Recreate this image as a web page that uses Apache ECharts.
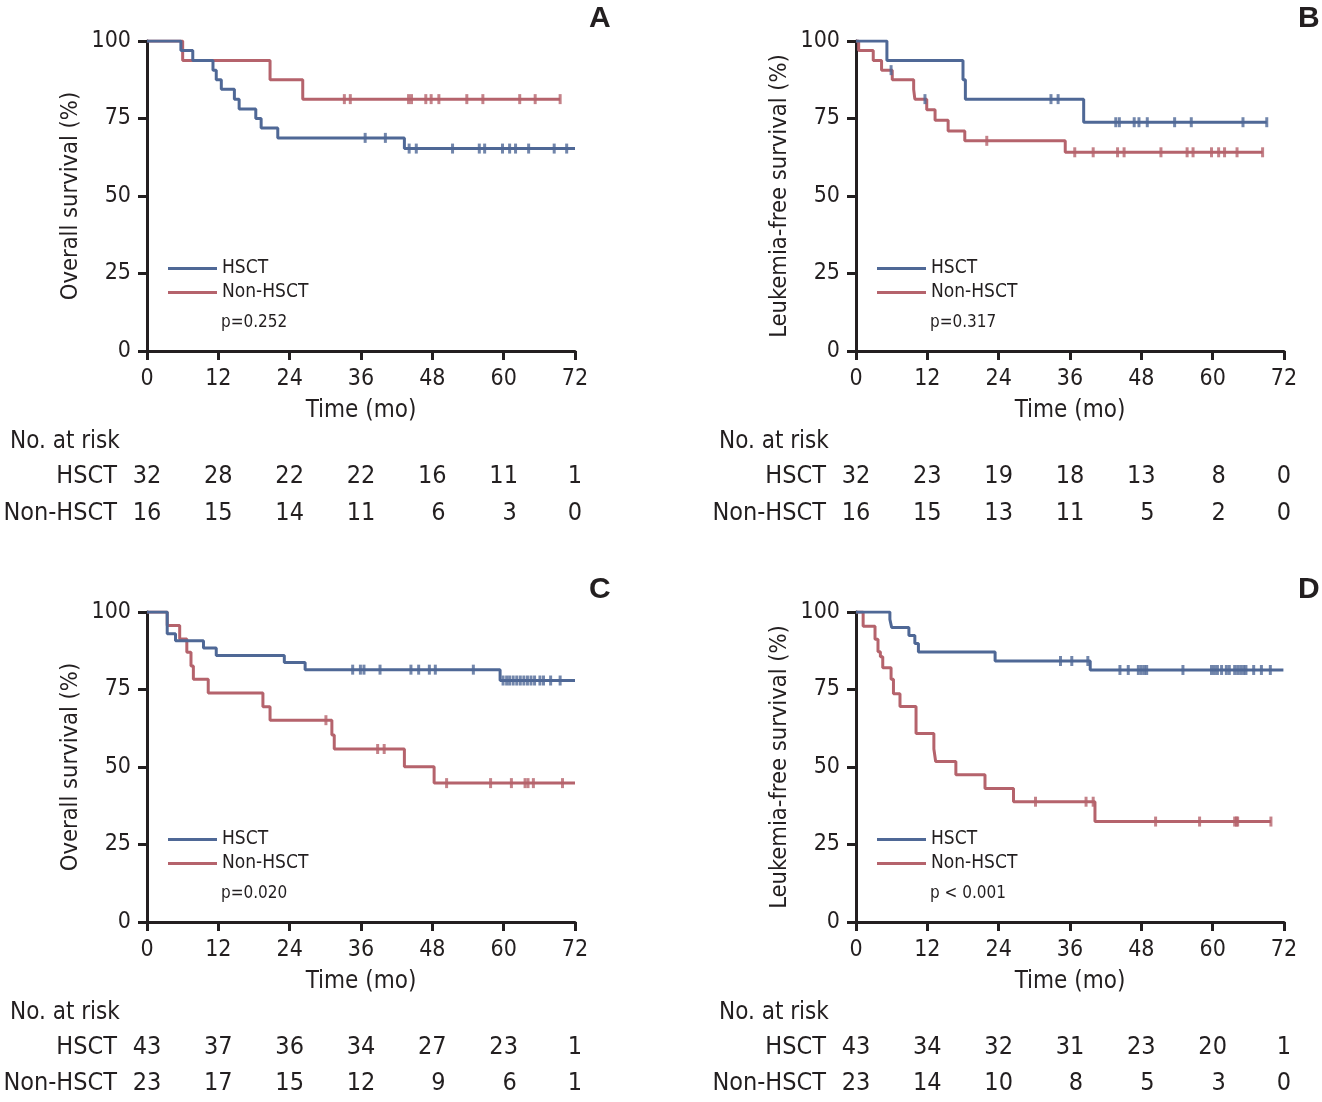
<!DOCTYPE html>
<html>
<head>
<meta charset="utf-8">
<script src="https://cdn.jsdelivr.net/npm/echarts@6/dist/echarts.min.js"></script>
<style>
html,body{margin:0;padding:0;background:#fff;}
#chart{width:1322px;height:1102px;}
</style>
</head>
<body>
<div id="chart"></div>
<script>
// ---------------- DATA ----------------
const timeTicks = [0, 12, 24, 36, 48, 60, 72];
const groups = ['HSCT', 'Non-HSCT'];

// Panel A – Overall survival
const A_hsct_steps = [[0,100],[5.7,96.9],[7.7,93.75],[11.1,90.6],[11.65,87.5],[12.5,84.4],[14.7,81.25],[15.5,78.1],[18.3,75],[19.2,71.9],[22.0,68.75],[43.3,65.3],[72,65.3]];
const A_hsct_cens = [36.7,40.1,44.1,45.3,51.4,55.9,56.8,59.8,61.0,62.0,64.2,68.5,70.6];
const A_non_steps = [[0,100],[6.0,93.75],[20.7,87.5],[26.2,81.25],[69.5,81.25]];
const A_non_cens = [33.2,34.2,44.0,44.5,46.9,47.8,49.1,53.8,56.5,62.7,65.3,69.5];
const A_risk_hsct = [32,28,22,22,16,11,1];
const A_risk_non = [16,15,14,11,6,3,0];

// Panel B – Leukemia-free survival
const B_hsct_steps = [[0,100],[5.2,93.75],[18.0,87.5],[18.4,81.25],[38.3,73.8],[69.1,73.8]];
const B_hsct_cens = [32.8,34.0,43.7,44.3,46.8,47.6,49.0,53.6,56.4,65.1,69.1];
const B_hsct_marks_on_non = [5.9,11.6];
const B_non_steps = [[0,100],[0.45,96.9],[2.9,93.75],[4.3,90.6],[6.1,87.5],[9.7,84.4],[9.9,81.25],[11.9,77.8],[13.3,74.4],[15.5,71.0],[18.3,67.8],[35.2,64.1],[68.4,64.1]];
const B_non_cens = [22.0,36.8,39.9,44.0,45.1,51.3,55.7,56.7,59.8,61.0,62.0,64.1,68.4];
const B_risk_hsct = [32,23,19,18,13,8,0];
const B_risk_non = [16,15,13,11,5,2,0];

// Panel C – Overall survival
const C_hsct_steps = [[0,100],[3.4,93.0],[4.8,90.7],[9.5,88.4],[11.65,86.0],[23.1,83.7],[26.6,81.4],[59.4,77.9],[72,77.9]];
const C_hsct_cens = [34.6,35.9,36.5,39.2,44.4,45.7,47.5,48.5,54.9,59.9,60.5,61.0,61.6,62.2,62.8,63.4,64.0,64.6,65.2,66.1,66.7,67.9,69.5];
const C_non_steps = [[0,100],[3.4,95.65],[5.5,91.3],[6.7,87.0],[7.4,82.6],[7.8,78.3],[10.3,73.9],[19.5,69.4],[20.7,65.1],[31.1,60.3],[31.5,55.8],[43.3,50.1],[48.3,44.8],[72,44.8]];
const C_non_cens = [30.1,38.8,39.9,50.4,57.8,61.3,63.6,64.1,65.0,69.9];
const C_risk_hsct = [43,37,36,34,27,23,1];
const C_risk_non = [23,17,15,12,9,6,1];

// Panel D – Leukemia-free survival
const D_hsct_steps = [[0,100],[5.7,97.6],[6.0,95.0],[8.9,92.4],[9.9,89.8],[10.5,87.1],[23.4,84.2],[39.4,81.3],[71.9,81.3]];
const D_hsct_cens = [34.4,36.3,39.0,44.4,45.8,47.5,48.0,48.5,48.9,55.0,59.8,60.3,60.8,61.5,62.3,62.8,63.7,64.2,64.7,65.2,65.6,66.9,68.2,69.7];
const D_non_steps = [[0,100],[1.2,95.4],[3.2,91.2],[3.7,87.2],[4.1,85.6],[4.5,82.0],[5.9,78.3],[6.3,73.6],[7.4,69.5],[10.1,60.8],[13.1,55.8],[13.4,51.8],[16.8,47.5],[21.7,43.1],[26.5,38.8],[40.2,32.4],[69.8,32.4]];
const D_non_cens = [30.2,38.7,39.9,50.4,57.8,63.7,64.0,64.2,69.8];
const D_risk_hsct = [43,34,32,31,23,20,1];
const D_risk_non = [23,14,10,8,5,3,0];

const panelLetters = ['A','B','C','D'];
const yTitles = ['Overall survival (%)','Leukemia-free survival (%)','Overall survival (%)','Leukemia-free survival (%)'];
const pValues = ['p=0.252','p=0.317','p=0.020','p < 0.001'];

// ---------------- STYLE / LAYOUT ----------------
const FONT = '"Liberation Sans Narrow","Arial Narrow","DejaVu Sans Condensed",sans-serif';
const INK = '#231f20';
const BLUE = '#4f6896';
const RED = '#b5636c';

const panels = [
  {hs:A_hsct_steps, hc:A_hsct_cens, ns:A_non_steps, nc:A_non_cens, rh:A_risk_hsct, rn:A_risk_non, left:147, top:41},
  {hs:B_hsct_steps, hc:B_hsct_cens, ns:B_non_steps, nc:B_non_cens, rh:B_risk_hsct, rn:B_risk_non, left:856, top:41, extra:B_hsct_marks_on_non},
  {hs:C_hsct_steps, hc:C_hsct_cens, ns:C_non_steps, nc:C_non_cens, rh:C_risk_hsct, rn:C_risk_non, left:147, top:612},
  {hs:D_hsct_steps, hc:D_hsct_cens, ns:D_non_steps, nc:D_non_cens, rh:D_risk_hsct, rn:D_risk_non, left:856, top:612}
];
const PW = 428, PH = 310;

function survAt(steps, t){
  let s = steps[0][1];
  for (const p of steps){ if (p[0] <= t) s = p[1]; }
  return s;
}

const grid = [], xAxis = [], yAxis = [], series = [], legend = [], graphic = [];

panels.forEach((p, i) => {
  const g = 2 * i, rg = 2 * i + 1;
  grid.push({left:p.left, top:p.top, width:PW, height:PH});
  xAxis.push({
    gridIndex:g, type:'value', min:0, max:72, interval:12,
    name:'Time (mo)', nameLocation:'middle', nameGap:48,
    nameTextStyle:{fontFamily:FONT, fontSize:24, color:INK},
    axisLine:{lineStyle:{color:INK, width:3}},
    axisTick:{length:9, lineStyle:{color:INK, width:3}},
    axisLabel:{fontFamily:FONT, fontSize:23, color:INK, margin:17},
    splitLine:{show:false}
  });
  yAxis.push({
    gridIndex:g, type:'value', min:0, max:100, interval:25,
    name:yTitles[i], nameLocation:'middle', nameGap:64,
    nameTextStyle:{fontFamily:FONT, fontSize:23.5, color:INK},
    axisLine:{lineStyle:{color:INK, width:3}},
    axisTick:{length:9, lineStyle:{color:INK, width:3}},
    axisLabel:{fontFamily:FONT, fontSize:23, color:INK, margin:16},
    splitLine:{show:false}
  });
  // risk table grid
  const rtop = p.top + 417;
  grid.push({left:p.left, top:rtop, width:PW, height:74});
  xAxis.push({gridIndex:rg, type:'value', min:0, max:72, show:false});
  yAxis.push({
    gridIndex:rg, type:'category', data:groups, inverse:true,
    axisLine:{show:false}, axisTick:{show:false},
    axisLabel:{fontFamily:FONT, fontSize:25, color:INK, margin:30}
  });

  // curves
  series.push({
    name:'Non-HSCT', type:'line', step:'end', xAxisIndex:g, yAxisIndex:g,
    data:p.ns, showSymbol:false, symbol:'none', lineStyle:{color:RED, width:3}, itemStyle:{color:RED}, z:2, silent:true
  });
  series.push({
    name:'HSCT', type:'line', step:'end', xAxisIndex:g, yAxisIndex:g,
    data:p.hs, showSymbol:false, symbol:'none', lineStyle:{color:BLUE, width:3}, itemStyle:{color:BLUE}, z:3, silent:true
  });
  // censor marks
  series.push({
    name:'Non-HSCT censored', type:'scatter', xAxisIndex:g, yAxisIndex:g,
    data:p.nc.map(t => [t, survAt(p.ns, t)]), symbol:'rect', symbolSize:[3,10],
    itemStyle:{color:RED}, z:4, silent:true
  });
  series.push({
    name:'HSCT censored', type:'scatter', xAxisIndex:g, yAxisIndex:g,
    data:p.hc.map(t => [t, survAt(p.hs, t)]).concat((p.extra||[]).map(t => [t, survAt(p.ns, t)])),
    symbol:'rect', symbolSize:[3,10], itemStyle:{color:BLUE}, z:5, silent:true
  });

  // legend
  legend.push({
    data:['HSCT','Non-HSCT'], orient:'vertical', left:p.left + 16, top:p.top + 213,
    icon:'rect', itemWidth:49, itemHeight:3, itemGap:5, selectedMode:false,
    textStyle:{fontFamily:FONT, fontSize:19, color:INK, padding:[0,0,0,0]}
  });
  graphic.push({
    type:'text', left:p.left + 74, top:p.top + 273,
    style:{text:pValues[i], font:'17px ' + FONT, fill:INK}
  });
  graphic.push({
    type:'text', left:p.left + 442, top:p.top - 37,
    style:{text:panelLetters[i], font:'bold 30px "Liberation Sans","Arial",sans-serif', fill:INK}
  });

  const rows = [p.rh, p.rn];
  rows.forEach((vals, r) => {
    series.push({
      name:'risk-' + groups[r], type:'scatter', xAxisIndex:rg, yAxisIndex:rg, silent:true,
      symbolSize:1, itemStyle:{color:'#ffffff', opacity:1},
      data:vals.map((v, k) => ({
        value:[timeTicks[k], groups[r], v],
        label:{offset:[(v < 10 && k > 0 && k < 6) ? 6 : 0, 0]}
      })),
      label:{show:true, position:'inside', formatter:d => d.value[2], fontFamily:FONT, fontSize:25, color:INK, opacity:1, textBorderWidth:0}
    });
  });
  graphic.push({
    type:'text', left:p.left - 137, top:rtop - 28,
    style:{text:'No. at risk', font:'24px ' + FONT, fill:INK}
  });
});

const chart = echarts.init(document.getElementById('chart'));
chart.setOption({
  animation:false,
  backgroundColor:'#fff',
  grid, xAxis, yAxis, series, legend, graphic
});
</script>
</body>
</html>
